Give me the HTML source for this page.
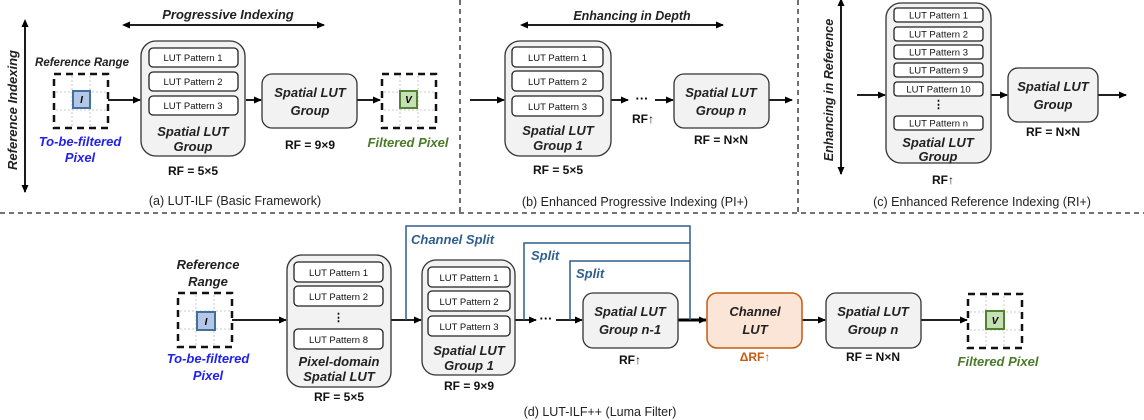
<!DOCTYPE html>
<html><head><meta charset="utf-8"><style>
html,body{margin:0;padding:0;background:#fff;}
svg{display:block;font-family:"Liberation Sans",sans-serif;}
.bi{font-weight:bold;font-style:italic;}
.lbl{font-size:13px;font-weight:bold;font-style:italic;fill:#222;}
.pat{font-size:9.5px;fill:#111;}
.rf{font-size:12px;font-weight:bold;fill:#111;}
.cap{font-size:12.5px;fill:#222;}
.blue{fill:#2222ee;}
.green{fill:#4a7a2a;}
.split{font-size:13px;font-weight:bold;font-style:italic;fill:#2f5f8f;}
</style></head><body>
<svg width="1144" height="420" viewBox="0 0 1144 420" xmlns="http://www.w3.org/2000/svg">
<defs>
<marker id="ah" markerWidth="8" markerHeight="8" refX="7" refY="4" orient="auto" markerUnits="userSpaceOnUse"><path d="M0,0.5 L8,4 L0,7.5 z" fill="#000"/></marker>
<marker id="ahs" markerWidth="8" markerHeight="8" refX="1" refY="4" orient="auto-start-reverse" markerUnits="userSpaceOnUse"><path d="M0,0.5 L8,4 L0,7.5 z" fill="#000"/></marker>
<g id="grid">
<rect x="0" y="0" width="54" height="54" fill="none" stroke="#111" stroke-width="2.5" stroke-dasharray="7,5"/>
<line x1="18" y1="2" x2="18" y2="52" stroke="#bbb" stroke-width="0.8" stroke-dasharray="2,2"/>
<line x1="36" y1="2" x2="36" y2="52" stroke="#bbb" stroke-width="0.8" stroke-dasharray="2,2"/>
<line x1="2" y1="18" x2="52" y2="18" stroke="#bbb" stroke-width="0.8" stroke-dasharray="2,2"/>
<line x1="2" y1="36" x2="52" y2="36" stroke="#bbb" stroke-width="0.8" stroke-dasharray="2,2"/>
</g>
</defs>

<!-- separators -->
<line x1="0" y1="213" x2="1144" y2="213" stroke="#222" stroke-width="1.3" stroke-dasharray="5,4"/>
<line x1="460" y1="0" x2="460" y2="212" stroke="#222" stroke-width="1.3" stroke-dasharray="5,4"/>
<line x1="798" y1="0" x2="798" y2="212" stroke="#222" stroke-width="1.3" stroke-dasharray="5,4"/>

<g stroke="#000" stroke-width="1.8" fill="none">
<!-- (a) -->
<line x1="25" y1="26" x2="25" y2="192" marker-start="url(#ahs)" marker-end="url(#ah)"/>
<line x1="129" y1="25" x2="324" y2="25" marker-start="url(#ahs)" marker-end="url(#ah)"/>
<line x1="108" y1="100" x2="140" y2="100" marker-end="url(#ah)"/>
<line x1="246" y1="100" x2="261" y2="100" marker-end="url(#ah)"/>
<line x1="357" y1="100" x2="380" y2="100" marker-end="url(#ah)"/>
<!-- (b) -->
<line x1="527" y1="25" x2="723" y2="25" marker-start="url(#ahs)" marker-end="url(#ah)"/>
<line x1="470" y1="100" x2="504" y2="100" marker-end="url(#ah)"/>
<line x1="611" y1="100" x2="628" y2="100" marker-end="url(#ah)"/>
<line x1="655" y1="100" x2="673" y2="100" marker-end="url(#ah)"/>
<line x1="769" y1="100" x2="792" y2="100" marker-end="url(#ah)"/>
<!-- (c) -->
<line x1="841" y1="5" x2="841" y2="174" marker-start="url(#ahs)" marker-end="url(#ah)"/>
<line x1="857" y1="95" x2="885" y2="95" marker-end="url(#ah)"/>
<line x1="991" y1="95" x2="1007" y2="95" marker-end="url(#ah)"/>
<line x1="1098" y1="95" x2="1126" y2="95" marker-end="url(#ah)"/>
<!-- (d) -->
<line x1="232" y1="320" x2="286" y2="320" marker-end="url(#ah)"/>
<line x1="391" y1="320" x2="421" y2="320" marker-end="url(#ah)"/>
<line x1="515" y1="320" x2="536" y2="320" marker-end="url(#ah)"/>
<line x1="556" y1="320" x2="582" y2="320" marker-end="url(#ah)"/>
<line x1="678" y1="320" x2="706" y2="320" stroke-width="3" marker-end="url(#ah)"/>
<line x1="802" y1="320" x2="825" y2="320" marker-end="url(#ah)"/>
<line x1="921" y1="320" x2="967" y2="320" marker-end="url(#ah)"/>
</g>
<!-- split lines -->
<g stroke="#2f5f8f" stroke-width="1.5" fill="none">
<polyline points="406,320 406,226 690,226 690,320"/>
<polyline points="524,320 524,243 690,243"/>
<polyline points="570,320 570,261 690,261"/>
</g>

<!-- (a) content -->
<text class="bi" font-size="13" transform="translate(17,110) rotate(-90)" text-anchor="middle" fill="#222">Reference Indexing</text>
<text class="bi" font-size="13" x="228" y="19" text-anchor="middle" fill="#222">Progressive Indexing</text>
<text class="bi" font-size="11.5" x="82" y="66" text-anchor="middle" fill="#222">Reference Range</text>
<use href="#grid" x="54" y="74"/>
<rect x="73" y="91" width="17" height="17" fill="#b4c7e7" stroke="#41719c" stroke-width="2"/>
<text class="bi" font-size="10" x="81.5" y="103" text-anchor="middle">I</text>
<text class="lbl blue" x="80" y="146" text-anchor="middle">To-be-filtered</text>
<text class="lbl blue" x="80" y="162" text-anchor="middle">Pixel</text>
<rect x="141" y="41" width="104" height="115" rx="15" fill="#f2f2f2" stroke="#333" stroke-width="1.3"/>
<g fill="#fff" stroke="#222" stroke-width="1.3">
<rect x="149" y="48" width="89" height="19" rx="4"/><rect x="149" y="72" width="89" height="19" rx="4"/><rect x="149" y="96" width="89" height="19" rx="4"/>
</g>
<text class="pat" x="193" y="61" text-anchor="middle">LUT Pattern 1</text>
<text class="pat" x="193" y="85" text-anchor="middle">LUT Pattern 2</text>
<text class="pat" x="193" y="109" text-anchor="middle">LUT Pattern 3</text>
<text class="lbl" x="193" y="136" text-anchor="middle">Spatial LUT</text>
<text class="lbl" x="193" y="151" text-anchor="middle">Group</text>
<text class="rf" x="193" y="175" text-anchor="middle">RF = 5×5</text>
<rect x="262" y="74" width="95" height="54" rx="10" fill="#f2f2f2" stroke="#333" stroke-width="1.3"/>
<text class="lbl" x="310" y="97" text-anchor="middle">Spatial LUT</text>
<text class="lbl" x="310" y="115" text-anchor="middle">Group</text>
<text class="rf" x="310" y="149" text-anchor="middle">RF = 9×9</text>
<use href="#grid" x="382" y="74"/>
<rect x="400" y="91" width="17" height="17" fill="#c5e0b4" stroke="#548235" stroke-width="2"/>
<text class="bi" font-size="10" x="408.5" y="103" text-anchor="middle">V</text>
<text class="lbl green" x="408" y="147" text-anchor="middle">Filtered Pixel</text>
<text class="cap" x="235" y="205" text-anchor="middle">(a) LUT-ILF (Basic Framework)</text>

<!-- (b) content -->
<text class="bi" font-size="12.5" x="632" y="20" text-anchor="middle" fill="#222">Enhancing in Depth</text>
<rect x="505" y="41" width="106" height="115" rx="15" fill="#f2f2f2" stroke="#333" stroke-width="1.3"/>
<g fill="#fff" stroke="#222" stroke-width="1.3">
<rect x="512" y="47" width="91" height="20" rx="4"/><rect x="512" y="71" width="91" height="20" rx="4"/><rect x="512" y="96" width="91" height="20" rx="4"/>
</g>
<text class="pat" x="557.5" y="61" text-anchor="middle">LUT Pattern 1</text>
<text class="pat" x="557.5" y="85" text-anchor="middle">LUT Pattern 2</text>
<text class="pat" x="557.5" y="110" text-anchor="middle">LUT Pattern 3</text>
<text class="lbl" x="558" y="135" text-anchor="middle">Spatial LUT</text>
<text class="lbl" x="558" y="150" text-anchor="middle">Group 1</text>
<text class="rf" x="558" y="174" text-anchor="middle">RF = 5×5</text>
<text font-size="13" font-weight="bold" x="642" y="103" text-anchor="middle">···</text>
<text class="rf" x="643" y="123" text-anchor="middle">RF↑</text>
<rect x="674" y="74" width="95" height="54" rx="10" fill="#f2f2f2" stroke="#333" stroke-width="1.3"/>
<text class="lbl" x="721" y="97" text-anchor="middle">Spatial LUT</text>
<text class="lbl" x="721" y="115" text-anchor="middle">Group n</text>
<text class="rf" x="721" y="144" text-anchor="middle">RF = N×N</text>
<text class="cap" x="635" y="206" text-anchor="middle">(b) Enhanced Progressive Indexing (PI+)</text>

<!-- (c) content -->
<text class="bi" font-size="12.5" transform="translate(833,90) rotate(-90)" text-anchor="middle" fill="#222">Enhancing in Reference</text>
<rect x="886" y="3" width="105" height="160" rx="15" fill="#f2f2f2" stroke="#333" stroke-width="1.3"/>
<g fill="#fff" stroke="#222" stroke-width="1.3">
<rect x="894" y="8" width="89" height="14" rx="3"/><rect x="894" y="27" width="89" height="14" rx="3"/><rect x="894" y="45" width="89" height="14" rx="3"/><rect x="894" y="63" width="89" height="14" rx="3"/><rect x="894" y="82" width="89" height="14" rx="3"/><rect x="894" y="116" width="89" height="14" rx="3"/>
</g>
<g class="pat" text-anchor="middle" font-size="9">
<text x="938.5" y="18.5">LUT Pattern 1</text><text x="938.5" y="37.5">LUT Pattern 2</text><text x="938.5" y="55.5">LUT Pattern 3</text><text x="938.5" y="73.5">LUT Pattern 9</text><text x="938.5" y="92.5">LUT Pattern 10</text><text x="938.5" y="126.5">LUT Pattern n</text>
</g>
<text font-size="11" font-weight="bold" x="938.5" y="108" text-anchor="middle">⋮</text>
<text class="lbl" x="938" y="147" text-anchor="middle">Spatial LUT</text>
<text class="lbl" x="938" y="161" text-anchor="middle">Group</text>
<text class="rf" x="943" y="184" text-anchor="middle">RF↑</text>
<rect x="1008" y="68" width="90" height="54" rx="10" fill="#f2f2f2" stroke="#333" stroke-width="1.3"/>
<text class="lbl" x="1053" y="91" text-anchor="middle">Spatial LUT</text>
<text class="lbl" x="1053" y="109" text-anchor="middle">Group</text>
<text class="rf" x="1053" y="136" text-anchor="middle">RF = N×N</text>
<text class="cap" x="982" y="206" text-anchor="middle">(c) Enhanced Reference Indexing (RI+)</text>

<!-- (d) content -->
<text class="lbl" x="208" y="269" text-anchor="middle">Reference</text>
<text class="lbl" x="208" y="286" text-anchor="middle">Range</text>
<use href="#grid" x="178" y="293"/>
<rect x="197" y="312" width="18" height="18" fill="#b4c7e7" stroke="#41719c" stroke-width="2"/>
<text class="bi" font-size="10" x="206" y="325" text-anchor="middle">I</text>
<text class="lbl blue" x="208" y="363" text-anchor="middle">To-be-filtered</text>
<text class="lbl blue" x="208" y="380" text-anchor="middle">Pixel</text>
<rect x="287" y="255" width="104" height="132" rx="15" fill="#f2f2f2" stroke="#333" stroke-width="1.3"/>
<g fill="#fff" stroke="#222" stroke-width="1.3">
<rect x="294" y="262" width="89" height="20" rx="4"/><rect x="294" y="286" width="89" height="20" rx="4"/><rect x="294" y="329" width="89" height="20" rx="4"/>
</g>
<text class="pat" x="338.5" y="276" text-anchor="middle">LUT Pattern 1</text>
<text class="pat" x="338.5" y="300" text-anchor="middle">LUT Pattern 2</text>
<text font-size="11" font-weight="bold" x="338.5" y="321" text-anchor="middle">⋮</text>
<text class="pat" x="338.5" y="343" text-anchor="middle">LUT Pattern 8</text>
<text class="lbl" x="339" y="366" text-anchor="middle">Pixel-domain</text>
<text class="lbl" x="339" y="381" text-anchor="middle">Spatial LUT</text>
<text class="rf" x="339" y="401" text-anchor="middle">RF = 5×5</text>
<rect x="422" y="260" width="93" height="115" rx="14" fill="#f2f2f2" stroke="#333" stroke-width="1.3"/>
<g fill="#fff" stroke="#222" stroke-width="1.3">
<rect x="428" y="267" width="82" height="20" rx="4"/><rect x="428" y="291" width="82" height="20" rx="4"/><rect x="428" y="316" width="82" height="20" rx="4"/>
</g>
<text class="pat" x="469" y="281" text-anchor="middle" font-size="9">LUT Pattern 1</text>
<text class="pat" x="469" y="305" text-anchor="middle" font-size="9">LUT Pattern 2</text>
<text class="pat" x="469" y="330" text-anchor="middle" font-size="9">LUT Pattern 3</text>
<text class="lbl" x="469" y="355" text-anchor="middle">Spatial LUT</text>
<text class="lbl" x="469" y="370" text-anchor="middle">Group 1</text>
<text class="rf" x="469" y="390" text-anchor="middle">RF = 9×9</text>
<text font-size="13" font-weight="bold" x="546" y="323" text-anchor="middle">···</text>
<text class="split" x="411" y="244">Channel Split</text>
<text class="split" x="531" y="260">Split</text>
<text class="split" x="576" y="278">Split</text>
<rect x="583" y="293" width="95" height="55" rx="10" fill="#f2f2f2" stroke="#333" stroke-width="1.3"/>
<text class="lbl" x="630" y="316" text-anchor="middle">Spatial LUT</text>
<text class="lbl" x="630" y="334" text-anchor="middle">Group n-1</text>
<text class="rf" x="630" y="364" text-anchor="middle">RF↑</text>
<rect x="707" y="293" width="95" height="55" rx="10" fill="#fbe5d6" stroke="#c55a11" stroke-width="1.5"/>
<text class="lbl" x="755" y="316" text-anchor="middle">Channel</text>
<text class="lbl" x="755" y="334" text-anchor="middle">LUT</text>
<text class="rf" x="755" y="361" text-anchor="middle" fill="#c55a11" style="fill:#c55a11">ΔRF↑</text>
<rect x="826" y="293" width="95" height="55" rx="10" fill="#f2f2f2" stroke="#333" stroke-width="1.3"/>
<text class="lbl" x="873" y="316" text-anchor="middle">Spatial LUT</text>
<text class="lbl" x="873" y="334" text-anchor="middle">Group n</text>
<text class="rf" x="873" y="361" text-anchor="middle">RF = N×N</text>
<use href="#grid" x="968" y="294"/>
<rect x="986" y="311" width="18" height="18" fill="#c5e0b4" stroke="#548235" stroke-width="2"/>
<text class="bi" font-size="10" x="995" y="324" text-anchor="middle">V</text>
<text class="lbl green" x="998" y="366" text-anchor="middle">Filtered Pixel</text>
<text class="cap" x="600" y="416" text-anchor="middle">(d) LUT-ILF++ (Luma Filter)</text>
</svg>
</body></html>
